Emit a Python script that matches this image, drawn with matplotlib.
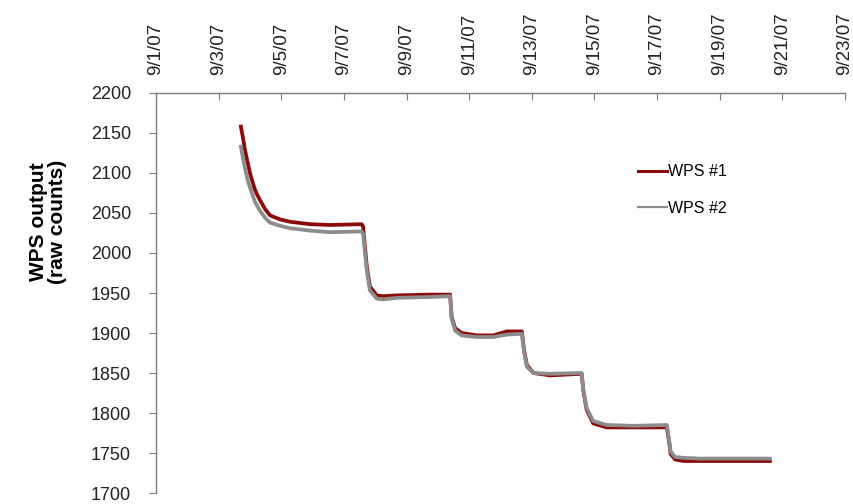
import numpy as np
from matplotlib import pyplot as plt

plt.rcParams['font.family'] = ['Liberation Sans', 'DejaVu Sans']

### Data (days since 9/1/07) ###
days = np.array([2.71, 2.78, 2.84, 2.92, 3.00, 3.08, 3.16, 3.24, 3.32, 3.48,
                 3.64, 3.96, 4.28, 4.92, 5.56,
                 6.57, 6.61, 6.73, 6.83, 7.05, 7.25, 7.69, 8.75, 9.39, 9.44,
                 9.55, 9.76, 10.24, 10.77, 11.20, 11.68, 11.75, 11.84, 12.05, 12.58,
                 13.59, 13.64, 13.75, 13.96, 14.39, 15.24, 16.31, 16.39, 16.43, 16.57,
                 16.84, 17.37, 18.43, 19.60])
wps1 = np.array([2158, 2143, 2129, 2114, 2100, 2089, 2079, 2072, 2066, 2055,
                 2047, 2042, 2039, 2036, 2035,
                 2036, 2033, 1983, 1958, 1947, 1946, 1947, 1948, 1948, 1920,
                 1906, 1900, 1897, 1897, 1902, 1902, 1879, 1860, 1850, 1847,
                 1849, 1829, 1804, 1787, 1782, 1782, 1782, 1762, 1749, 1742,
                 1740, 1740, 1740, 1740])
wps2 = np.array([2133, 2118, 2106, 2092, 2082, 2073, 2064, 2058, 2053, 2044,
                 2038, 2034, 2031, 2028, 2026,
                 2027, 2024, 1978, 1953, 1943, 1942, 1944, 1945, 1946, 1918,
                 1903, 1897, 1895, 1895, 1898, 1899, 1877, 1858, 1850, 1849,
                 1850, 1830, 1806, 1790, 1785, 1784, 1785, 1764, 1752, 1745,
                 1744, 1743, 1743, 1743])

tick_days = np.arange(0, 23, 2)
tick_labels = ['9/1/07', '9/3/07', '9/5/07', '9/7/07', '9/9/07', '9/11/07',
               '9/13/07', '9/15/07', '9/17/07', '9/19/07', '9/21/07', '9/23/07']
y_ticks = np.arange(1700, 2201, 50)

fig = plt.figure(figsize=(8.54, 5.04), dpi=100)
ax = fig.add_axes([0.1827, 0.0218, 0.8068, 0.7937])

ax.plot(days, wps1, color='#8b0a0a', lw=2.7, label='WPS #1', solid_joinstyle='round')
ax.plot(days, wps2, color='#8c8c8c', lw=2.7, label='WPS #2', solid_joinstyle='round')

ax.set_xlim(0, 22)
ax.set_ylim(1700, 2200)
ax.set_yticks(y_ticks)
ax.set_xticks(tick_days)
ax.set_xticklabels(tick_labels, rotation=90)

ax.xaxis.tick_top()
ax.spines['bottom'].set_visible(False)
ax.spines['right'].set_visible(False)
for s in ['top', 'left']:
    ax.spines[s].set_color('#7f7f7f')
    ax.spines[s].set_linewidth(1.0)
ax.tick_params(axis='x', direction='in', length=5, color='#7f7f7f',
               labelsize=13.5, labelcolor='#222222', pad=13)
ax.tick_params(axis='y', direction='out', length=5, color='#7f7f7f',
               labelsize=13, labelcolor='#222222', pad=13)

fig.text(0.056, 0.56, 'WPS output\n(raw counts)', rotation=90, ha='center',
         va='center', fontsize=15, fontweight='bold', linespacing=1.0)

leg = ax.legend(loc='center left', bbox_to_anchor=(0.70, 0.7575), frameon=False,
                handlelength=1.8, handletextpad=0.05, labelspacing=1.35, fontsize=11.5,
                borderpad=0, borderaxespad=0)
leg.get_lines()[0].set_linewidth(2.2)
leg.get_lines()[1].set_linewidth(1.6)

fig.savefig('out.png', dpi=100)
